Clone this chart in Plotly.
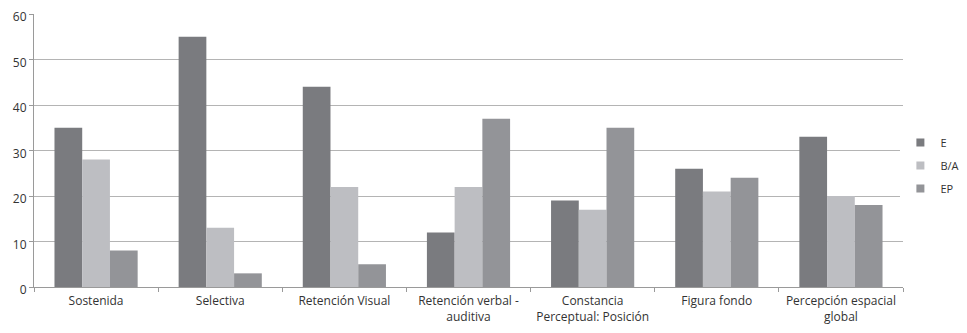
import plotly.graph_objects as go

categories = [
    "Sostenida",
    "Selectiva",
    "Retención Visual",
    "Retención verbal -<br>auditiva",
    "Constancia<br>Perceptual: Posición",
    "Figura fondo",
    "Percepción espacial<br>global",
]
e_values = [35, 55, 44, 12, 19, 26, 33]
ba_values = [28, 13, 22, 22, 17, 21, 20]
ep_values = [8, 3, 5, 37, 35, 24, 18]
y_ticks = [0, 10, 20, 30, 40, 50, 60]

FONT = "Open Sans"
series = [
    ("E", e_values, "#7a7b7f"),
    ("B/A", ba_values, "#bdbec2"),
    ("EP", ep_values, "#939498"),
]

fig = go.Figure()
for name, vals, color in series:
    fig.add_trace(go.Bar(
        x=categories, y=vals, name=name, showlegend=False,
        marker=dict(color=color, line=dict(width=0)),
    ))
# small square legend keys, like the original
for name, vals, color in series:
    fig.add_trace(go.Scatter(
        x=[None], y=[None], mode="markers", name=name, legendgroup=name,
        marker=dict(symbol="square", size=8, color=color),
    ))

# the page body adds 8px around the figure, so keep it inside the window
fig.update_layout(
    width=951, height=317,
    margin=dict(l=26, r=56, t=6, b=38, autoexpand=False),
    paper_bgcolor="white", plot_bgcolor="white",
    barmode="group", bargap=0.33, bargroupgap=0,
    font=dict(family=FONT, size=12, color="#333333"),
    legend=dict(
        yref="container",
        x=0.997, y=0.503, xanchor="left", yanchor="middle",
        traceorder="grouped", tracegroupgap=4,
        font=dict(family=FONT, size=11, color="#333333"),
        itemwidth=30,
    ),
    xaxis=dict(
        showline=True, linecolor="#9a9a9a", linewidth=1,
        ticks="outside", tickson="boundaries", ticklen=4, tickcolor="#9a9a9a",
        ticklabelstandoff=3,
        showgrid=False, automargin=False,
    ),
    yaxis=dict(
        range=[0, 60], tickvals=y_ticks,
        showline=True, linecolor="#9a9a9a", linewidth=1,
        ticks="outside", ticklen=4, tickcolor="#9a9a9a",
        ticklabelshift=3, ticklabeloverflow="allow",
        showgrid=True, gridcolor="#b4b4b4", gridwidth=1,
        zeroline=False, automargin=False,
    ),
)

fig.write_html("out.html")
